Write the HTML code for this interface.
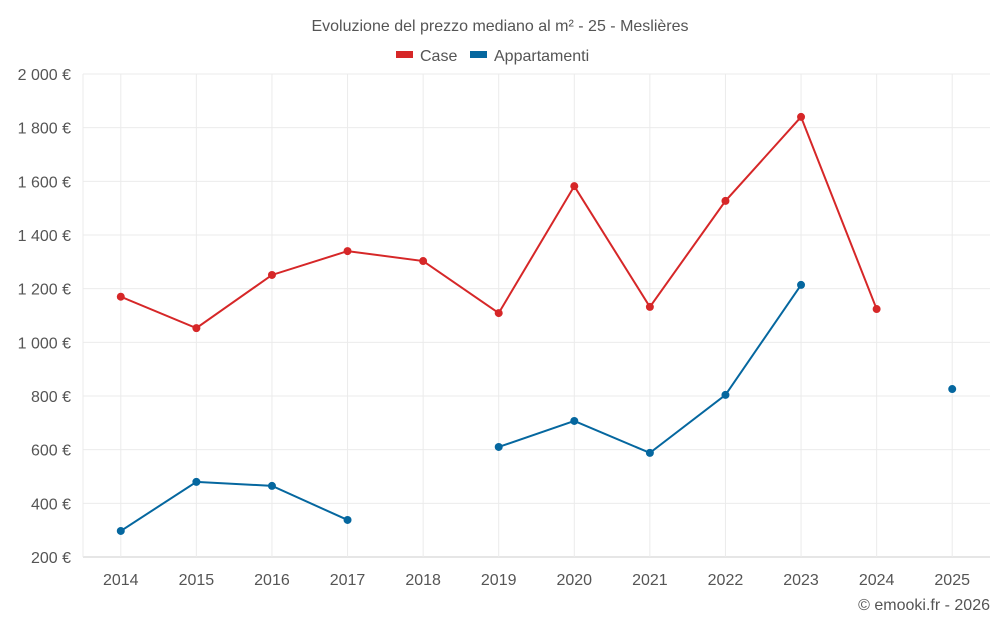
<!DOCTYPE html>
<html><head><meta charset="utf-8"><style>
body{margin:0;background:#fff;font-family:"Liberation Sans",sans-serif;}
svg text{font-family:"Liberation Sans",sans-serif;}
</style></head><body>
<svg id="chart" width="1000" height="625" viewBox="0 0 1000 625" xmlns="http://www.w3.org/2000/svg">
<text x="500" y="31" text-anchor="middle" font-size="16" fill="#555">Evoluzione del prezzo mediano al m² - 25 - Meslières</text>
<g>
<g><rect x="396" y="51" width="17" height="7" fill="#d62728"/><text x="420" y="61" font-size="16" fill="#555">Case</text></g>
<g><rect x="470" y="51" width="17" height="7" fill="#05679f"/><text x="494" y="61" font-size="16" fill="#555">Appartamenti</text></g>
</g>
<g id="grid"></g>
<g id="yaxis"></g>
<g id="xaxis"></g>
<g id="series"></g>
<text x="990" y="610" text-anchor="end" font-size="16" fill="#555">© emooki.fr - 2026</text>
</svg>
<script>
const categories=["2014","2015","2016","2017","2018","2019","2020","2021","2022","2023","2024","2025"];
const caseValues=[1170,1053,1251,1340,1303,1109,1582,1132,1527,1840,1124,null];
const apptValues=[297,480,465,338,null,610,707,588,804,1214,null,826];
const yTicks=[200,400,600,800,1000,1200,1400,1600,1800,2000];
const yTickLabels=["200 €","400 €","600 €","800 €","1 000 €","1 200 €","1 400 €","1 600 €","1 800 €","2 000 €"];
const NS="http://www.w3.org/2000/svg";
const L=83,R=990,T=74,B=557,ymin=200,ymax=2000;
const bw=(R-L)/categories.length;
const x=i=>L+bw*(i+0.5);
const y=v=>B-(v-ymin)/(ymax-ymin)*(B-T);
function mk(tag,attrs,parent){const e=document.createElementNS(NS,tag);for(const k in attrs)e.setAttribute(k,attrs[k]);parent.appendChild(e);return e;}
const grid=document.getElementById('grid'),ya=document.getElementById('yaxis'),xa=document.getElementById('xaxis'),se=document.getElementById('series');
yTicks.forEach((t,i)=>{
 const l=mk('line',{x1:L,x2:R,y1:y(t),y2:y(t),stroke:t===ymin?'#ccc':'#ebebeb','stroke-width':1},grid);
 
 
 const tx=mk('text',{x:L-12,y:y(t)+6,'text-anchor':'end','font-size':16,fill:'#555'},ya);
 tx.textContent=yTickLabels[i];
 
 
});
const la=mk('line',{x1:L,x2:L,y1:T,y2:B,stroke:'#ebebeb','stroke-width':1},grid);


categories.forEach((c,i)=>{
 const l=mk('line',{x1:x(i),x2:x(i),y1:T,y2:B,stroke:'#ebebeb','stroke-width':1},grid);
 
 
 const tx=mk('text',{x:x(i),y:B+28,'text-anchor':'middle','font-size':16,fill:'#555'},xa);
 tx.textContent=c;
 
 
});
function draw(vals,color,name){
 let d='',pen=false;
 vals.forEach((v,i)=>{if(v==null){pen=false;return;}d+=(pen?'L':'M')+x(i)+' '+y(v)+' ';pen=true;});
 const p=mk('path',{d:d,fill:'none',stroke:color,'stroke-width':2},se);
 
 
 vals.forEach((v,i)=>{if(v==null)return;
  const c=mk('circle',{cx:x(i),cy:y(v),r:4,fill:color},se);
  
  
 });
}
draw(caseValues,'#d62728','case');
draw(apptValues,'#05679f','appartamenti');
</script>
</body></html>
